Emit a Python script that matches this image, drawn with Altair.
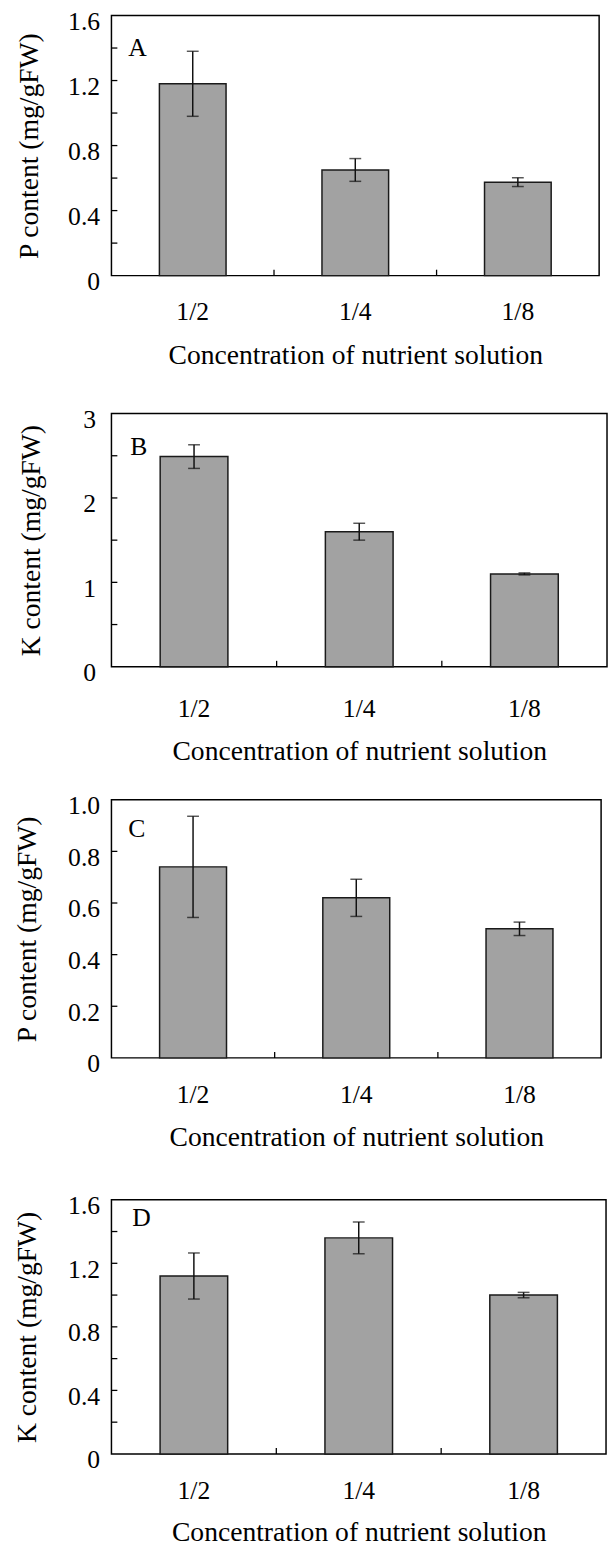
import altair as alt
import pandas as pd

cats = ["1/2", "1/4", "1/8"]

a_mean = [1.18, 0.65, 0.575]
a_err = [0.20, 0.07, 0.027]
b_mean = [2.49, 1.60, 1.10]
b_err = [0.14, 0.10, 0.012]
c_mean = [0.74, 0.62, 0.50]
c_err = [0.196, 0.072, 0.026]
d_mean = [1.12, 1.36, 1.00]
d_err = [0.145, 0.10, 0.017]

a_labels = [0, 0.4, 0.8, 1.2, 1.6]
a_ticks = [0.2, 0.4, 0.6, 0.8, 1.0, 1.2, 1.4]
b_labels = [0, 1, 2, 3]
b_ticks = [0.5, 1, 1.5, 2, 2.5]
c_labels = [0, 0.2, 0.4, 0.6, 0.8, 1.0]
c_ticks = [0.2, 0.4, 0.6, 0.8]
d_labels = [0, 0.4, 0.8, 1.2, 1.6]
d_ticks = [0.2, 0.4, 0.6, 0.8, 1.0, 1.2, 1.4]

xtitle = "Concentration of nutrient solution"
FONT = "Liberation Serif"

panels = [
    dict(letter="A", ytitle="P content (mg/gFW)", mean=a_mean, err=a_err, ymax=1.6,
         labels=a_labels, ticks=a_ticks, fmt=".1f", w=495, h=264, tp=25, ylp=12,
         xlp=24, xtp=17, lx=17, ly=41),
    dict(letter="B", ytitle="K content (mg/gFW)", mean=b_mean, err=b_err, ymax=3,
         labels=b_labels, ticks=b_ticks, fmt="d", w=503, h=257, tp=38, ylp=16,
         xlp=29, xtp=17, lx=19, ly=42),
    dict(letter="C", ytitle="P content (mg/gFW)", mean=c_mean, err=c_err, ymax=1.0,
         labels=c_labels, ticks=c_ticks, fmt=".1f", w=497, h=262, tp=27, ylp=12,
         xlp=24, xtp=17, lx=17, ly=38),
    dict(letter="D", ytitle="K content (mg/gFW)", mean=d_mean, err=d_err, ymax=1.6,
         labels=d_labels, ticks=d_ticks, fmt=".1f", w=502, h=258, tp=27, ylp=12,
         xlp=24, xtp=16, lx=21, ly=27),
]


def make_panel(p):
    df = pd.DataFrame({
        "cat": cats,
        "mean": p["mean"],
        "lo": [m - e for m, e in zip(p["mean"], p["err"])],
        "hi": [m + e for m, e in zip(p["mean"], p["err"])],
    })
    xscale = alt.Scale(domain=cats, paddingInner=0, paddingOuter=0)
    yscale = alt.Scale(domain=[0, p["ymax"]], nice=False, zero=True)
    label_expr = ("datum.value == 0 ? '0' : format(datum.value, '%s')" % p["fmt"])
    xenc = alt.X("cat:N", sort=cats, scale=xscale, title=xtitle,
                 axis=alt.Axis(labelAngle=0, tickSize=0, domain=False, grid=False,
                               labelFont=FONT, labelFontSize=26, labelColor="black",
                               labelPadding=p["xlp"], titleFont=FONT, titleFontSize=28,
                               titleFontWeight="normal", titleColor="black",
                               titlePadding=p["xtp"]))
    yaxis = alt.Axis(values=p["labels"], tickSize=0, domain=False, grid=False,
                     labelExpr=label_expr, labelFont=FONT, labelFontSize=26,
                     labelColor="black", labelPadding=p["ylp"], labelBaseline="top",
                     labelOffset=-7,
                     titleFont=FONT, titleFontSize=28, titleFontWeight="normal",
                     titleColor="black", titlePadding=p["tp"])

    bars = alt.Chart(df).mark_bar(
        width=alt.RelativeBandSize(0.41), fill="#a2a2a2", stroke="#1a1a1a", strokeWidth=1.5
    ).encode(
        x=xenc,
        y=alt.Y("mean:Q", scale=yscale, axis=yaxis, title=p["ytitle"]),
    )
    err = alt.Chart(df).mark_rule(color="#111111", strokeWidth=1.5).encode(
        x=alt.X("cat:N", sort=cats, scale=xscale, title=xtitle),
        y=alt.Y("lo:Q", scale=yscale, title=p["ytitle"]),
        y2="hi:Q",
    )
    cap_lo = alt.Chart(df).mark_tick(color="#111111", size=12, thickness=1.5,
                                     orient="horizontal").encode(
        x=alt.X("cat:N", sort=cats, scale=xscale, title=xtitle),
        y=alt.Y("lo:Q", scale=yscale, title=p["ytitle"]),
    )
    cap_hi = alt.Chart(df).mark_tick(color="#111111", size=12, thickness=1.5,
                                     orient="horizontal").encode(
        x=alt.X("cat:N", sort=cats, scale=xscale, title=xtitle),
        y=alt.Y("hi:Q", scale=yscale, title=p["ytitle"]),
    )
    ytick_df = pd.DataFrame({"v": p["ticks"]})
    yticks = alt.Chart(ytick_df).mark_rule(color="black", strokeWidth=1.3).encode(
        y=alt.Y("v:Q", scale=yscale, title=p["ytitle"]),
        x=alt.value(0),
        x2=alt.value(6),
    )
    xtick_df = pd.DataFrame({"cat": cats[1:]})
    xticks = alt.Chart(xtick_df).mark_rule(color="black", strokeWidth=1.3).encode(
        x=alt.X("cat:N", sort=cats, scale=xscale, title=xtitle, bandPosition=0),
        y=alt.value(p["h"]),
        y2=alt.value(p["h"] - 6),
    )
    letter = alt.Chart(pd.DataFrame({"t": [p["letter"]]})).mark_text(
        align="left", baseline="alphabetic", font=FONT, fontSize=26, color="black"
    ).encode(
        text="t:N",
        x=alt.value(p["lx"]),
        y=alt.value(p["ly"]),
    )
    return alt.layer(bars, err, cap_lo, cap_hi, yticks, xticks, letter).properties(
        width=p["w"], height=p["h"]
    )


pa, pb, pc, pd_ = [make_panel(p) for p in panels]
top = alt.vconcat(pa, pb, spacing=36)
bottom = alt.vconcat(pc, pd_, spacing=40)

chart = alt.vconcat(top, bottom, spacing=26).properties(
    padding={"left": 4, "top": -12, "right": 0, "bottom": 0}
).configure_view(
    stroke="black", strokeWidth=1.5
)

chart.save("out.html", embed_options={"renderer": "svg", "actions": False})
